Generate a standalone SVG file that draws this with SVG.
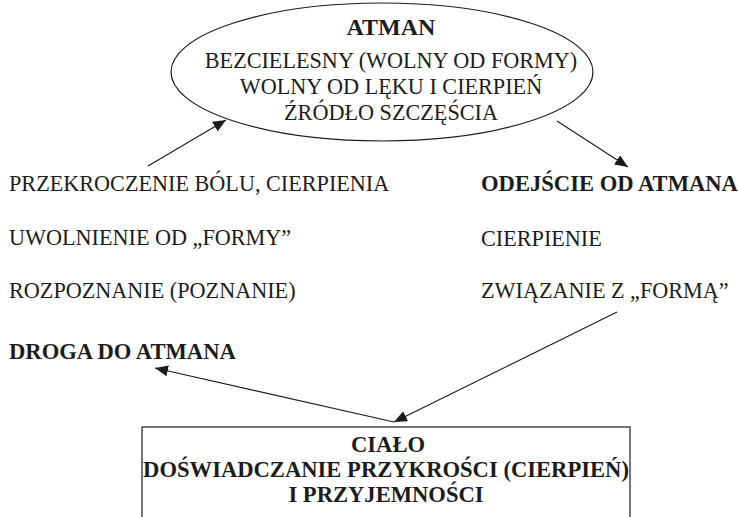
<svg xmlns="http://www.w3.org/2000/svg" width="738" height="517" viewBox="0 0 738 517">
  <style>
    text { font-family: "Liberation Serif", "DejaVu Serif", serif; fill: #1c1c1c; }
    .t { font-size: 22.2px; }
    .b { font-size: 22.6px; font-weight: bold; }
    .h { font-size: 24px; font-weight: bold; }
    .m { text-anchor: middle; }
    .shape { fill: none; stroke: #1c1c1c; stroke-width: 1.2; }
    .conn { stroke: #1c1c1c; stroke-width: 1.1; fill: none; marker-end: url(#tip); }
  </style>
  <defs>
    <marker id="tip" viewBox="0 0 13 11" refX="13" refY="5.5" markerWidth="13" markerHeight="11" markerUnits="userSpaceOnUse" orient="auto">
      <path d="M0,0 L13,5.5 L0,11 z" fill="#1c1c1c"/>
    </marker>
  </defs>

  <rect width="738" height="517" fill="#fff"/>

  <!-- central oval: ATMAN -->
  <g id="atman">
    <ellipse class="shape" cx="382" cy="72" rx="211" ry="69"/>
    <text class="h m" x="391" y="35">ATMAN</text>
    <text class="t m" x="391" y="68">BEZCIELESNY (WOLNY OD FORMY)</text>
    <text class="t m" x="391" y="94">WOLNY OD LĘKU I CIERPIEŃ</text>
    <text class="t m" x="391" y="120">ŹRÓDŁO SZCZĘŚCIA</text>
  </g>

  <!-- left column: the way to Atman -->
  <g id="droga">
    <text class="t" x="9" y="191">PRZEKROCZENIE BÓLU, CIERPIENIA</text>
    <text class="t" x="9" y="245">UWOLNIENIE OD „FORMY”</text>
    <text class="t" x="9" y="298">ROZPOZNANIE (POZNANIE)</text>
    <text class="b" x="9" y="359">DROGA DO ATMANA</text>
  </g>

  <!-- right column: departure from Atman -->
  <g id="odejscie">
    <text class="b" x="481" y="191">ODEJŚCIE OD ATMANA</text>
    <text class="t" x="481" y="246">CIERPIENIE</text>
    <text class="t" x="481" y="298">ZWIĄZANIE Z „FORMĄ”</text>
  </g>

  <!-- bottom box: the body -->
  <g id="cialo">
    <rect class="shape" x="142" y="427" width="488" height="110"/>
    <text class="b m" x="388" y="452">CIAŁO</text>
    <text class="b m" x="386" y="477">DOŚWIADCZANIE PRZYKROŚCI (CIERPIEŃ)</text>
    <text class="b m" x="386" y="502">I PRZYJEMNOŚCI</text>
  </g>

  <g id="connectors">
    <line class="conn" x1="148" y1="166" x2="226" y2="120"/>
    <line class="conn" x1="557" y1="121" x2="628" y2="167"/>
    <line class="conn" x1="394" y1="422" x2="155" y2="368"/>
    <line class="conn" x1="617" y1="312" x2="394" y2="422"/>
  </g>
</svg>
